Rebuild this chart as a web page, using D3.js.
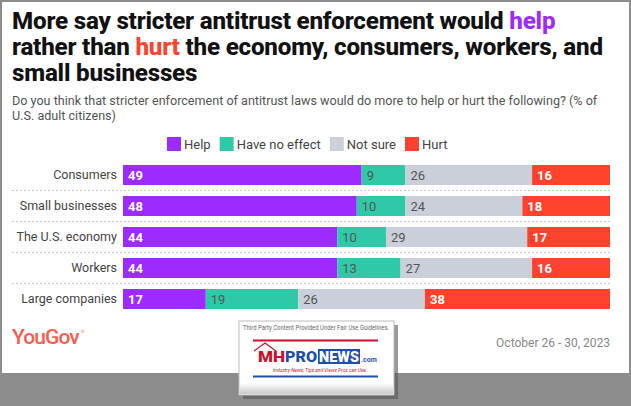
<!DOCTYPE html>
<html><head><meta charset="utf-8">
<script src="https://cdn.jsdelivr.net/npm/d3@7"></script>
<style>
html,body{margin:0;padding:0;background:#8c8c8c;}
svg{display:block;}
</style></head>
<body>
<svg id="chart" width="631" height="406"></svg>
<script>
const categories = ["Consumers", "Small businesses", "The U.S. economy", "Workers", "Large companies"];
const seriesNames = ["Help", "Have no effect", "Not sure", "Hurt"];
const help = [49, 48, 44, 44, 17];
const noEffect = [9, 10, 10, 13, 19];
const notSure = [26, 24, 29, 27, 26];
const hurt = [16, 18, 17, 16, 38];
const colors = ["#9d2bff", "#2fc9a7", "#cbcfd9", "#ff422d"];
const labelStyles = [{fill:"#fff", weight:700}, {fill:"#555", weight:400}, {fill:"#555", weight:400}, {fill:"#fff", weight:700}];

const seriesValues = [help, noEffect, notSure, hurt];
const rows = categories.map((c, i) => {
  const o = {category: c};
  seriesNames.forEach((s, j) => o[s] = seriesValues[j][i]);
  return o;
});

const svg = d3.select("#chart");
const FONT = "Roboto, 'Liberation Sans', sans-serif";

// frame
svg.append("rect").attr("x",0).attr("y",0).attr("width",631).attr("height",406).attr("fill","#8c8c8c");
svg.append("rect").attr("x",2).attr("y",2).attr("width",627).attr("height",371).attr("fill","#fff");

// title (flat tspans)
const title = svg.append("text").attr("font-family", FONT).attr("font-weight", 800)
  .attr("font-size", 22.5).attr("fill", "#111").attr("letter-spacing", -0.2);
const t1a = title.append("tspan").attr("x", 12).attr("y", 29).text("More say stricter antitrust enforcement would ");
const t1b = title.append("tspan").attr("fill", colors[0]).text("help");
title.append("tspan").attr("x", 12).attr("y", 55).text("rather than ");
title.append("tspan").attr("fill", colors[3]).text("hurt");
title.append("tspan").text(" the economy, consumers, workers, and");
title.append("tspan").attr("x", 12).attr("y", 81).text("small businesses");
{
  const w = t1a.node().getComputedTextLength() + t1b.node().getComputedTextLength();
  title.attr("font-size", 22.5 * 543 / w);
}

// subtitle
const sub = svg.append("text").attr("font-family", FONT).attr("font-size", 12).attr("fill", "#555");
const s1 = sub.append("tspan").attr("x", 12).attr("y", 105).text("Do you think that stricter enforcement of antitrust laws would do more to help or hurt the following? (% of");
sub.append("tspan").attr("x", 12).attr("y", 120).text("U.S. adult citizens)");
{
  const w = s1.node().getComputedTextLength();
  sub.attr("font-size", 12 * 586 / w);
}

// legend
const legend = svg.append("g").attr("font-family", FONT).attr("font-size", 13).attr("fill", "#444");
let lx = 167;
seriesNames.forEach((s, j) => {
  legend.append("rect").attr("x", lx).attr("y", 137).attr("width", 14).attr("height", 14).attr("fill", colors[j]);
  const t = legend.append("text").attr("x", lx + 17).attr("y", 148.5).text(s);
  lx += 17 + t.node().getComputedTextLength() + 9;
});

// scales
const x = d3.scaleLinear().domain([0, 100]).range([123, 610]);
const y = d3.scaleBand().domain(categories).range([165, 309]).paddingInner(11/31).paddingOuter(0);

const stack = d3.stack().keys(seriesNames)(rows);

// separators
const sepG = svg.append("g");
categories.slice(1).forEach(c => {
  const yy = y(c) - (y.step() - y.bandwidth()) / 2;
  sepG.append("line").attr("x1", 12).attr("x2", 610).attr("y1", yy).attr("y2", yy)
    .attr("stroke", "#c8c8c8").attr("stroke-width", 1).attr("stroke-dasharray", "2,2");
});

// bars
const barsG = svg.append("g");
stack.forEach((layer, j) => {
  const g = barsG.append("g");
  g.selectAll("rect").data(layer).join("rect")
    .attr("x", d => x(d[0])).attr("width", d => x(d[1]) - x(d[0]))
    .attr("y", d => y(d.data.category)).attr("height", y.bandwidth())
    .attr("fill", colors[j]);
  g.selectAll("text").data(layer).join("text")
    .attr("x", d => x(d[0]) + 5).attr("y", d => y(d.data.category) + y.bandwidth()/2 + 4.5)
    .attr("font-family", FONT).attr("font-size", 13)
    .attr("font-weight", labelStyles[j].weight).attr("fill", labelStyles[j].fill)
    .text(d => d[1] - d[0]);
});

// category axis
const yAxis = svg.append("g").attr("transform", "translate(117,0)")
  .call(d3.axisLeft(y).tickSize(0).tickPadding(0));
yAxis.select(".domain").remove();
yAxis.selectAll("text").attr("font-family", FONT).attr("font-size", 12.5).attr("fill", "#444");

// footer
svg.append("text").attr("x", 12).attr("y", 344).attr("font-family", FONT).attr("font-size", 21)
  .attr("font-weight", 500).attr("fill", "#f45e4e").attr("letter-spacing", -0.9).text("YouGov");
svg.append("text").attr("x", 81).attr("y", 333).attr("font-family", FONT).attr("font-size", 4)
  .attr("fill", "#f45e4e").text("®");
svg.append("text").attr("x", 610).attr("y", 347).attr("text-anchor", "end").attr("font-family", FONT)
  .attr("font-size", 12).attr("fill", "#888").text("October 26 - 30, 2023");

// watermark logo
const lg = svg.append("g");
lg.append("rect").attr("x", 243).attr("y", 325).attr("width", 155).attr("height", 74).attr("fill", "#555").attr("opacity", 0.6);
lg.append("rect").attr("x", 239).attr("y", 321).attr("width", 155).attr("height", 74).attr("fill", "#fff").attr("stroke", "#bbb").attr("stroke-width", 1);
const grad = svg.append("defs").append("linearGradient").attr("id", "lgGrad").attr("x1", 0).attr("y1", 0).attr("x2", 0).attr("y2", 1);
grad.append("stop").attr("offset", "0%").attr("stop-color", "#fff");
grad.append("stop").attr("offset", "100%").attr("stop-color", "#c9c9c9");
lg.append("rect").attr("x", 240).attr("y", 383).attr("width", 153).attr("height", 11).attr("fill", "url(#lgGrad)");
lg.append("text").attr("x", 243).attr("y", 330).attr("textLength", 146).attr("lengthAdjust", "spacingAndGlyphs")
  .attr("font-family", FONT).attr("font-size", 6.3).attr("fill", "#666").text("Third Party Content Provided Under Fair Use Guidelines.");
lg.append("line").attr("x1", 253).attr("x2", 378).attr("y1", 340.5).attr("y2", 340.5).attr("stroke", "#c8102e").attr("stroke-width", 2);
lg.append("line").attr("x1", 253).attr("x2", 378).attr("y1", 376.5).attr("y2", 376.5).attr("stroke", "#1f4fa8").attr("stroke-width", 2);
lg.append("path").attr("d", "M254,351 L265,343 L276,351").attr("fill", "none").attr("stroke", "#c8102e").attr("stroke-width", 1.2);
lg.append("rect").attr("x", 318).attr("y", 349).attr("width", 42).attr("height", 15).attr("fill", "#1f4fa8");
const brandAttrs = (t) => t.attr("y", 362).attr("font-family", FONT).attr("font-weight", 900).attr("font-size", 14.5)
  .attr("lengthAdjust", "spacingAndGlyphs");
brandAttrs(lg.append("text")).attr("x", 258).attr("textLength", 27).attr("fill", "#c8102e").text("MH");
brandAttrs(lg.append("text")).attr("x", 285).attr("textLength", 32).attr("fill", "#1f4fa8").text("PRO");
brandAttrs(lg.append("text")).attr("x", 319).attr("textLength", 40).attr("fill", "#fff").text("NEWS");
lg.append("text").attr("x", 361).attr("y", 362).attr("font-family", FONT).attr("font-weight", 700)
  .attr("font-size", 7).attr("fill", "#1f4fa8").text(".com");
lg.append("text").attr("x", 273).attr("y", 372).attr("textLength", 94).attr("lengthAdjust", "spacingAndGlyphs")
  .attr("font-family", FONT).attr("font-style", "italic").attr("font-size", 5.5).attr("fill", "#c8102e").text("Industry News, Tips and Views Pros can Use.");
</script>
</body></html>
